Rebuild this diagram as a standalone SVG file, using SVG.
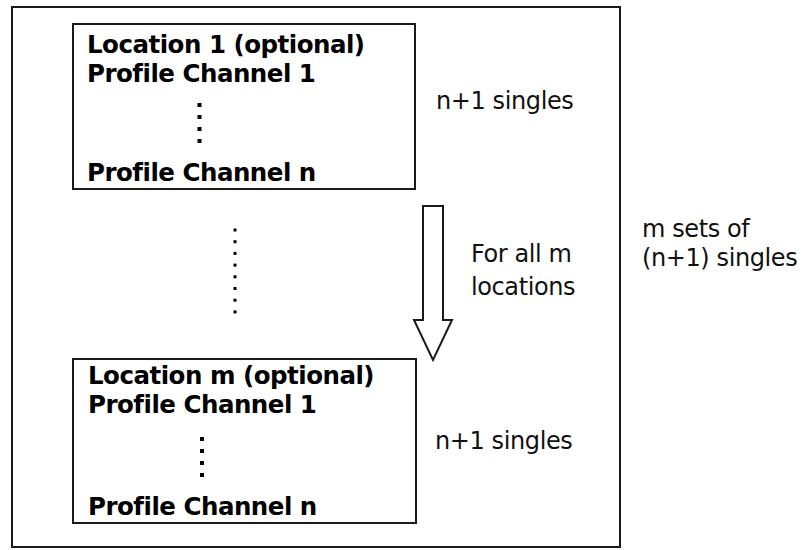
<svg xmlns="http://www.w3.org/2000/svg" width="804" height="550" viewBox="0 0 804 550">
<style>
.box{fill:none;stroke:#1a1a1a;stroke-width:2}
.b{font-family:"DejaVu Sans",Verdana,sans-serif;font-weight:bold;font-size:24.5px;letter-spacing:-0.5px;fill:#000}
.r{font-family:"DejaVu Sans",Verdana,sans-serif;font-size:24px;letter-spacing:-0.4px;fill:#111}
.dot{fill:#000}
</style>
<rect width="804" height="550" fill="#fff"/>
<g id="frame"><rect class="box" x="12" y="7" width="608" height="540"/></g>
<g id="location1">
<rect class="box" x="73" y="24" width="342" height="165"/>
<text class="b" x="87" y="53">Location 1 (optional)</text>
<text class="b" x="87" y="82">Profile Channel 1</text>
<rect class="dot" x="197.5" y="103" width="4" height="4"/>
<rect class="dot" x="197.5" y="115" width="4" height="4"/>
<rect class="dot" x="197.5" y="127" width="4" height="4"/>
<rect class="dot" x="197.5" y="139" width="4" height="4"/>
<text class="b" x="87" y="181">Profile Channel n</text>
</g>
<g id="locationm">
<rect class="box" x="73" y="359" width="343" height="164"/>
<text class="b" x="88" y="384">Location m (optional)</text>
<text class="b" x="88" y="413">Profile Channel 1</text>
<rect class="dot" x="200" y="437" width="4" height="4"/>
<rect class="dot" x="200" y="449" width="4" height="4"/>
<rect class="dot" x="200" y="461" width="4" height="4"/>
<rect class="dot" x="200" y="473" width="4" height="4"/>
<text class="b" x="88" y="515">Profile Channel n</text>
</g>
<g id="labels">
<text class="r" x="436" y="109">n+1 singles</text>
<text class="r" x="435" y="449">n+1 singles</text>
<text class="r" x="471" y="262">For all m</text>
<text class="r" x="471" y="295">locations</text>
<text class="r" x="642" y="237">m sets of</text>
<text class="r" x="642" y="266">(n+1) singles</text>
</g>
<g id="connectors">
<path d="M423,206 H443 V320 H452 L433,360 L414,320 H423 Z" fill="#fff" stroke="#1a1a1a" stroke-width="2" stroke-linejoin="miter"/>
<g id="middots" class="dot">
<rect x="233.5" y="228.5" width="3" height="3"/>
<rect x="233.5" y="240.2" width="3" height="3"/>
<rect x="233.5" y="251.9" width="3" height="3"/>
<rect x="233.5" y="263.6" width="3" height="3"/>
<rect x="233.5" y="275.3" width="3" height="3"/>
<rect x="233.5" y="287" width="3" height="3"/>
<rect x="233.5" y="298.7" width="3" height="3"/>
<rect x="233.5" y="310.4" width="3" height="3"/>
</g>
</g>
</svg>
